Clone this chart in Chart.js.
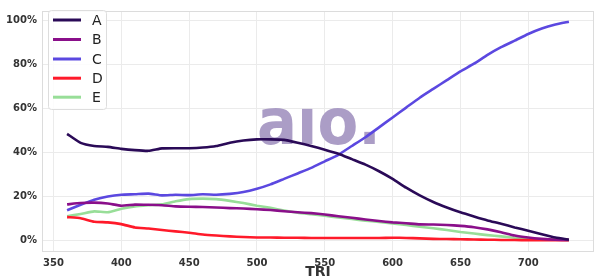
<!DOCTYPE html>
<html>
<head>
<meta charset="utf-8">
<script src="https://cdn.jsdelivr.net/npm/chart.js@4.4.0/dist/chart.umd.min.js"></script>
<style>
html,body{margin:0;padding:0;background:#fff;}
#wrap{width:600px;height:280px;position:relative;}
</style>
</head>
<body>
<div id="wrap"><canvas id="c" width="600" height="280"></canvas></div>
<script>
const tri = [360,370,380,390,400,410,420,430,440,450,460,470,480,490,500,510,520,530,540,550,560,570,580,590,600,610,620,630,640,650,660,670,680,690,700,710,720,730];
const seriesA = [48.5,44.4,43,42.6,41.7,41.1,40.8,41.9,42,42,42.3,43,44.5,45.5,46,46,45.8,44.5,43,41.3,39.5,37,34.5,31.5,28,24,20.5,17.5,15,12.8,10.9,9.1,7.6,5.9,4.4,2.8,1.3,0.3];
const seriesB = [16.4,17,17.2,16.8,15.8,16.3,16.2,16,15.5,15.3,15.2,15,14.7,14.5,14.2,13.8,13.3,12.8,12.4,11.8,11,10.3,9.5,8.8,8.2,7.8,7.3,7.2,7,6.6,6,5,3.7,2.2,1.3,0.7,0.3,0.2];
const seriesC = [13.7,16.2,18.5,20,20.8,21,21.3,20.5,20.8,20.6,21,20.8,21.2,22,23.5,25.5,28,30.5,33,36,39,43,47,51.5,56,60.5,65,69,73,77,80.5,84.5,88,91,94,96.5,98.3,99.6];
const seriesD = [10.6,10.1,8.5,8.2,7.4,5.9,5.4,4.7,4.1,3.5,2.7,2.2,1.8,1.5,1.3,1.3,1.2,1.2,1.1,1.1,1.1,1.1,1.1,1.1,1.2,1.1,0.9,0.7,0.6,0.5,0.4,0.3,0.2,0.15,0.1,0.1,0.1,0.1];
const seriesE = [11,12,13.2,12.8,14.4,15.5,16,16.4,17.8,18.8,19,18.8,18,17,15.8,14.8,13.6,12.6,11.9,11.2,10.4,9.7,9,8.4,7.7,7,6.2,5.5,4.7,3.8,3.1,2.4,1.8,1.2,0.7,0.4,0.3,0.2];
const names = ['A','B','C','D','E'];
const colors = ['#2a0a57','#8a0f8a','#5b48e0','#ff1a2a','#98de98'];
const xTicks = [350,400,450,500,550,600,650,700];
const yTicks = [0,20,40,60,80,100];
const allSeries = [seriesA,seriesB,seriesC,seriesD,seriesE];

const datasets = allSeries.map((s,i)=>({
  label: names[i],
  data: tri.map((t,j)=>({x:t,y:s[j]})),
  borderColor: colors[i],
  backgroundColor: colors[i],
  borderWidth: 2.6,
  pointRadius: 0,
  tension: 0.15,
  fill: false
}));

const framePlugin = {
  id:'frame',
  beforeDatasetsDraw(chart){
    const {ctx} = chart;
    ctx.save();
    ctx.fillStyle = '#ab9dc6';
    ctx.font = 'bold 60px "DejaVu Sans", sans-serif';
    ctx.textAlign = 'left';
    ctx.textBaseline = 'alphabetic';
    const txt = 'aıo.';
    const m = ctx.measureText(txt);
    const gl = -m.actualBoundingBoxLeft, gr = m.actualBoundingBoxRight;
    const gt = -m.actualBoundingBoxAscent, gb = m.actualBoundingBoxDescent;
    const tx0=259, tx1=375, ty0=108, ty1=145.5;
    const sx = (tx1-tx0)/(gr-gl), sy = (ty1-ty0)/(gb-gt);
    ctx.translate(tx0 - gl*sx, ty0 - gt*sy);
    ctx.scale(sx, sy);
    ctx.fillText(txt, 0, 0);
    ctx.restore();
  },
  afterDraw(chart){
    const {ctx, chartArea:a} = chart;
    ctx.save();
    ctx.strokeStyle = '#dcdcdc';
    ctx.lineWidth = 1;
    ctx.strokeRect(a.left+0.5, a.top+0.5, a.right-a.left-1, a.bottom-a.top-1);
    // legend
    const bx=48.5, by=10.5, bw=58, bh=99;
    ctx.fillStyle='rgba(255,255,255,0.85)';
    ctx.strokeStyle='#dddddd';
    ctx.beginPath();
    if (ctx.roundRect) ctx.roundRect(bx,by,bw,bh,3); else ctx.rect(bx,by,bw,bh);
    ctx.fill(); ctx.stroke();
    const ys=[20,39.5,59,78.2,97.2];
    names.forEach((n,i)=>{
      ctx.strokeStyle=colors[i];
      ctx.lineWidth=3;
      ctx.beginPath();
      ctx.moveTo(53,ys[i]); ctx.lineTo(81,ys[i]); ctx.stroke();
      ctx.fillStyle='#222';
      ctx.font='14px "DejaVu Sans", sans-serif';
      ctx.textBaseline='middle';
      ctx.textAlign='left';
      ctx.fillText(n,92,ys[i]+1);
    });
    ctx.restore();
  }
};

new Chart(document.getElementById('c'),{
  type:'line',
  data:{datasets},
  options:{
    responsive:false,
    animation:false,
    layout:{padding:{top:3,right:6,left:0,bottom:0}},
    plugins:{legend:{display:false},tooltip:{enabled:false}},
    scales:{
      x:{
        type:'linear',
        min:341.5,max:748.5,
        afterBuildTicks(s){ s.ticks = xTicks.map(v=>({value:v})); },
        afterFit(s){ s.height = 28; },
        grid:{color:'#ebebeb',lineWidth:1,drawTicks:false},
        border:{display:false},
        ticks:{color:'#333',font:{family:'"DejaVu Sans"',size:10,weight:'bold'},padding:5,maxRotation:0},
        title:{display:true,text:'TRI',color:'#333',font:{family:'"DejaVu Sans"',size:14,weight:'bold'},padding:{top:0,bottom:-1}}
      },
      y:{
        min:-5.3,max:104.5,
        afterBuildTicks(s){ s.ticks = yTicks.map(v=>({value:v})); },
        afterFit(s){ s.width = 42; },
        grid:{color:'#ebebeb',lineWidth:1,drawTicks:false},
        border:{display:false},
        ticks:{color:'#333',font:{family:'"DejaVu Sans"',size:10,weight:'bold'},padding:5,callback:v=>v+'%'}
      }
    }
  },
  plugins:[framePlugin]
});
</script>
</body>
</html>
